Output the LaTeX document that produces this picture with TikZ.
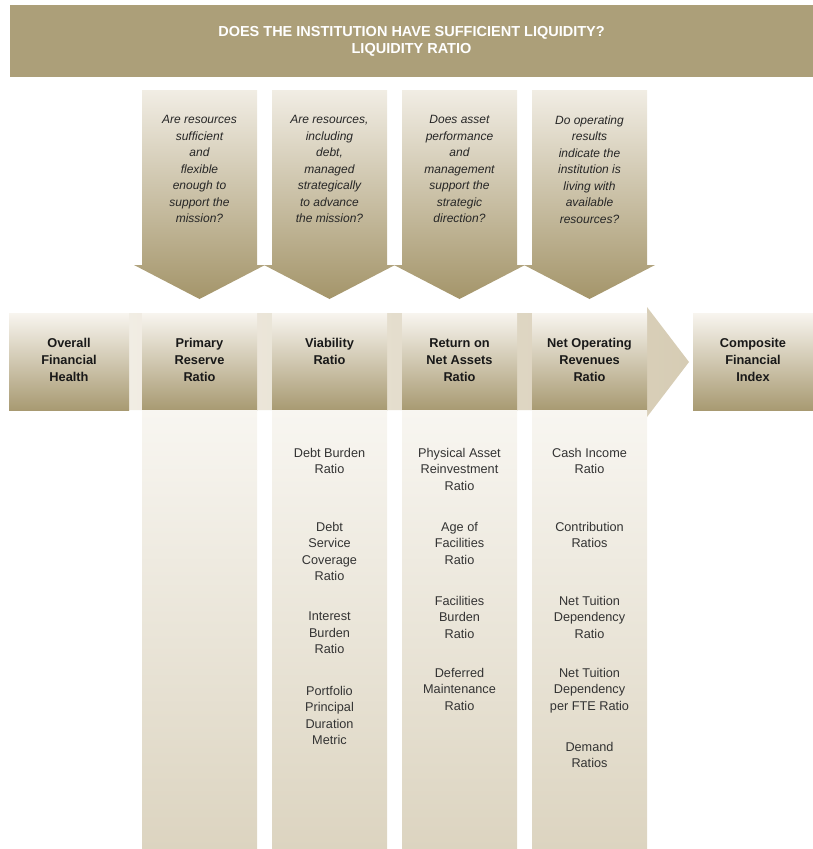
\documentclass[tikz,border=0pt]{standalone}
\usepackage{fontspec}
\setmainfont{Liberation Sans}
\usepackage{tikz}
\usetikzlibrary{positioning}
\definecolor{khaki}{RGB}{172,159,121}
\definecolor{boxtop}{RGB}{248,245,239}
\definecolor{boxbottom}{RGB}{168,154,114}
\definecolor{arrowtop}{RGB}{241,237,228}
\definecolor{arrowbottom}{RGB}{164,149,106}
\definecolor{coltop}{RGB}{248,246,241}
\definecolor{colbottom}{RGB}{220,212,192}
\definecolor{bandleft}{RGB}{247,244,238}
\definecolor{bandright}{RGB}{214,204,180}
\tikzset{
  ratio box/.style={minimum width=115pt, minimum height=97pt, inner sep=0pt, outer sep=0pt, top color=boxtop, bottom color=boxbottom}, % the boxes of the middle row
  ratio column/.style={minimum width=115pt, minimum height=439pt, inner sep=0pt, outer sep=0pt, top color=coltop, bottom color=colbottom}, % the light strips under the boxes
  box text/.style={font=\fontsize{12.8}{17}\selectfont\bfseries, align=center, inner sep=0pt, text=black!90},
  question text/.style={font=\fontsize{12}{16.5}\selectfont\itshape, align=center, inner sep=0pt, text=black!85, anchor=north},
  column text/.style={font=\fontsize{12.7}{16.5}\selectfont, align=center, inner sep=0pt, text=black!80},
}

\begin{document}
\begin{tikzpicture}[x=1pt, y=-1pt]
    \useasboundingbox (0,0) rectangle (813,849);

    \node[fill=khaki, minimum width=803pt, minimum height=72pt, inner sep=0pt, text=white, align=center, font=\fontsize{14.5}{17}\selectfont\bfseries] (BANNER) at (411.5,41) {DOES THE INSTITUTION HAVE SUFFICIENT LIQUIDITY?\\LIQUIDITY RATIO};

    % the four questions
    \shade[top color=arrowtop, bottom color=arrowbottom] (142,90) -- (257,90) -- (257,265) -- (265,265) -- (199.5,299) -- (134,265) -- (142,265) -- cycle;
    \shade[top color=arrowtop, bottom color=arrowbottom] (272,90) -- (387,90) -- (387,265) -- (395,265) -- (329.5,299) -- (264,265) -- (272,265) -- cycle;
    \shade[top color=arrowtop, bottom color=arrowbottom] (402,90) -- (517,90) -- (517,265) -- (525,265) -- (459.5,299) -- (394,265) -- (402,265) -- cycle;
    \shade[top color=arrowtop, bottom color=arrowbottom] (532,90) -- (647,90) -- (647,265) -- (655,265) -- (589.5,299) -- (524,265) -- (532,265) -- cycle;

    \node[question text] (Q_RESOURCES) at (199.5,115.5) {Are resources\\sufficient\\and\\flexible\\enough to\\support the\\mission?};
    \node[question text] (Q_DEBT) at (329.5,115.5) {Are resources,\\including\\debt,\\managed\\strategically\\to advance\\the mission?};
    \node[question text] (Q_ASSETS) at (459.5,115.5) {Does asset\\performance\\and\\management\\support the\\strategic\\direction?};
    \node[question text] (Q_OPERATING) at (589.5,115.5) {Do operating\\results\\indicate the\\institution is\\living with\\available\\resources?};

    % big arrow behind the middle row
    \shade[left color=bandleft, right color=bandright] (9,313) -- (647,313) -- (647,307) -- (689,362) -- (647,417) -- (647,410) -- (9,410) -- cycle;

    \node[ratio box, minimum width=120pt] (OVERALL) at (69,361.5) {};
    \node[ratio box, right=13pt of OVERALL] (PRIMARY) {};
    \node[ratio box, right=15pt of PRIMARY] (VIABILITY) {};
    \node[ratio box, right=15pt of VIABILITY] (RETURN) {};
    \node[ratio box, right=15pt of RETURN] (NET_OPERATING) {};
    \node[ratio box, minimum width=120pt] (COMPOSITE) at (753,361.5) {};

    \node[box text, below=25pt of OVERALL.north] (OVERALL_TEXT) {Overall\\Financial\\Health};
    \node[box text, below=25pt of PRIMARY.north] (PRIMARY_TEXT) {Primary\\Reserve\\Ratio};
    \node[box text, below=25pt of VIABILITY.north] (VIABILITY_TEXT) {Viability\\Ratio};
    \node[box text, below=25pt of RETURN.north] (RETURN_TEXT) {Return on\\Net Assets\\Ratio};
    \node[box text, below=25pt of NET_OPERATING.north] (NET_OPERATING_TEXT) {Net Operating\\Revenues\\Ratio};
    \node[box text, below=25pt of COMPOSITE.north] (COMPOSITE_TEXT) {Composite\\Financial\\Index};

    \node[ratio column, below=0pt of PRIMARY] (PRIMARY_COL) {};
    \node[ratio column, below=0pt of VIABILITY] (VIABILITY_COL) {};
    \node[ratio column, below=0pt of RETURN] (RETURN_COL) {};
    \node[ratio column, below=0pt of NET_OPERATING] (NET_OPERATING_COL) {};

    \node[column text, below=38pt of VIABILITY_COL.north] (DEBT_BURDEN) {Debt Burden\\Ratio};
    \node[column text, below=112pt of VIABILITY_COL.north] (DEBT_SERVICE) {Debt\\Service\\Coverage\\Ratio};
    \node[column text, below=202pt of VIABILITY_COL.north] (INTEREST_BURDEN) {Interest\\Burden\\Ratio};
    \node[column text, below=276pt of VIABILITY_COL.north] (PORTFOLIO) {Portfolio\\Principal\\Duration\\Metric};

    \node[column text, below=38pt of RETURN_COL.north] (PHYSICAL_ASSET) {Physical Asset\\Reinvestment\\Ratio};
    \node[column text, below=112pt of RETURN_COL.north] (AGE_OF_FACILITIES) {Age of\\Facilities\\Ratio};
    \node[column text, below=186pt of RETURN_COL.north] (FACILITIES_BURDEN) {Facilities\\Burden\\Ratio};
    \node[column text, below=258pt of RETURN_COL.north] (DEFERRED_MAINTENANCE) {Deferred\\Maintenance\\Ratio};

    \node[column text, below=38pt of NET_OPERATING_COL.north] (CASH_INCOME) {Cash Income\\Ratio};
    \node[column text, below=112pt of NET_OPERATING_COL.north] (CONTRIBUTION) {Contribution\\Ratios};
    \node[column text, below=186pt of NET_OPERATING_COL.north] (NET_TUITION) {Net Tuition\\Dependency\\Ratio};
    \node[column text, below=258pt of NET_OPERATING_COL.north] (NET_TUITION_FTE) {Net Tuition\\Dependency\\per FTE Ratio};
    \node[column text, below=332pt of NET_OPERATING_COL.north] (DEMAND) {Demand\\Ratios};
\end{tikzpicture}
\end{document}
